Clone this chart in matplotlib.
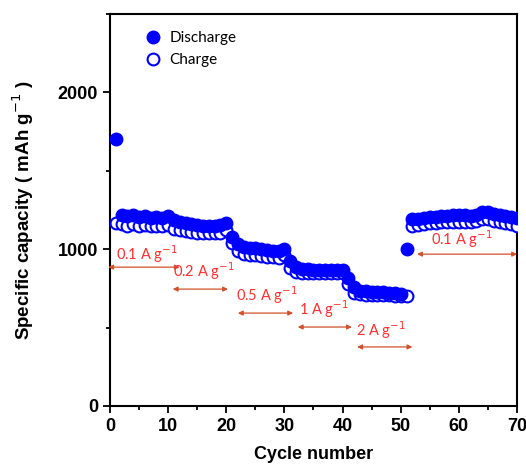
import matplotlib
matplotlib.use("Agg")
import matplotlib.pyplot as plt
from matplotlib.ticker import MultipleLocator

cycles = list(range(1, 71))

discharge = [1705,
             1215, 1210, 1218, 1205, 1210, 1200, 1205, 1200, 1210,
             1185, 1170, 1165, 1160, 1155, 1150, 1145, 1145, 1155, 1165,
             1075, 1030, 1015, 1010, 1005, 1000, 995, 990, 990, 1000,
             925, 885, 875, 875, 870, 870, 870, 868, 870, 870,
             815, 760, 735, 730, 728, 725, 725, 723, 720, 715,
             1000,
             1190, 1195, 1200, 1205, 1205, 1210, 1210, 1215, 1215, 1215,
             1210, 1220, 1240, 1235, 1225, 1215, 1210, 1205, 1200]

charge = [1165,
          1160, 1150, 1160, 1150, 1155, 1150, 1150, 1145, 1155,
          1130, 1120, 1115, 1110, 1105, 1100, 1100, 1100, 1105, 1120,
          1040, 985, 970, 965, 960, 955, 950, 950, 945, 960,
          880, 855, 850, 850, 848, 848, 848, 845, 845, 848,
          780, 720, 712, 710, 708, 706, 705, 705, 703, 700,
          698,
          1145, 1155, 1160, 1165, 1165, 1170, 1170, 1175, 1175, 1175,
          1170, 1180, 1195, 1190, 1180, 1170, 1165, 1160, 1150]

# rate labels and their double arrows
rate_labels = ["0.1 A g$^{-1}$", "0.2 A g$^{-1}$", "0.5 A g$^{-1}$",
               "1 A g$^{-1}$", "2 A g$^{-1}$", "0.1 A g$^{-1}$"]
arrow_start = [-0.3, 10.8, 22.0, 32.3, 42.5, 52.8]
arrow_end = [12.0, 20.3, 31.5, 41.6, 52.0, 70.0]
arrow_y = [885, 745, 592, 503, 376, 968]
label_x = [6.4, 16.2, 27.0, 36.8, 46.5, 60.5]
label_y = [970, 860, 705, 615, 485, 1065]

fig = plt.figure(figsize=(5.26, 4.66), dpi=100)
ax = fig.add_axes([0.209, 0.129, 0.774, 0.841])

ax.plot(cycles, charge, "o", ms=8.5, mfc="white", mec="#0000ff", mew=1.5,
        label="Charge", zorder=3)
ax.plot(cycles, discharge, "o", ms=9, color="#0000ff", label="Discharge",
        zorder=4)

for txt, x0, x1, ya, tx, ty in zip(rate_labels, arrow_start, arrow_end,
                                    arrow_y, label_x, label_y):
    ax.annotate("", xy=(x0, ya), xytext=(x1, ya), annotation_clip=False,
                arrowprops=dict(arrowstyle="<|-|>", color="#d2502a", lw=0.9,
                                mutation_scale=7, shrinkA=0, shrinkB=0))
    ax.text(tx, ty, txt, color="#ff3030", fontsize=10.5, family="Lato",
            ha="center", va="center")

ax.set_xlim(0, 70)
ax.set_ylim(0, 2500)
ax.xaxis.set_major_locator(MultipleLocator(10))
ax.xaxis.set_minor_locator(MultipleLocator(5))
ax.yaxis.set_major_locator(MultipleLocator(1000))
ax.yaxis.set_minor_locator(MultipleLocator(500))
ax.tick_params(which="both", direction="out", width=1.3, top=False, right=False)
ax.tick_params(which="major", length=5, labelsize=13)
ax.tick_params(which="minor", length=3)
for lab in ax.get_xticklabels() + ax.get_yticklabels():
    lab.set_fontweight("bold")
    lab.set_family("Liberation Sans")
for sp in ax.spines.values():
    sp.set_linewidth(1.5)

ax.set_xlabel("Cycle number", fontsize=13, fontweight="bold",
              family="Liberation Sans", labelpad=8)
ax.set_ylabel("Specific capacity ( mAh g$^{-1}$ )", fontsize=13.5,
              fontweight="bold", family="Liberation Sans", labelpad=16)

handles, labels = ax.get_legend_handles_labels()
ax.legend(handles[::-1], labels[::-1], loc="upper left", frameon=False,
          prop={"family": "Lato", "size": 11}, handletextpad=0.5,
          borderaxespad=0.6, handlelength=1.2, borderpad=0.4,
          bbox_to_anchor=(0.045, 0.995))

fig.savefig("out.png", dpi=100)
